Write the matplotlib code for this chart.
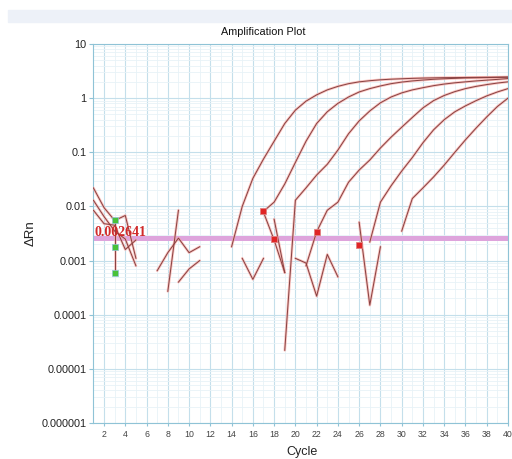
import matplotlib
matplotlib.use("Agg")
import matplotlib.pyplot as plt
from matplotlib.patches import Rectangle
from matplotlib.ticker import FixedLocator, MultipleLocator, LogLocator, NullFormatter
import numpy as np

# amplification curves (cycle, delta Rn)
cyc_a = list(range(14, 41))
rn_a = [0.0018, 0.010, 0.033, 0.075, 0.16, 0.34, 0.6, 0.88, 1.15, 1.42, 1.65, 1.85, 2.0, 2.1,
        2.18, 2.24, 2.28, 2.32, 2.35, 2.37, 2.39, 2.4, 2.41, 2.42, 2.43, 2.44, 2.45]
cyc_b = list(range(17, 41))
rn_b = [0.0081, 0.012, 0.026, 0.065, 0.16, 0.34, 0.56, 0.8, 1.05, 1.3, 1.5, 1.68, 1.85, 1.98,
        2.08, 2.16, 2.23, 2.28, 2.32, 2.36, 2.38, 2.4, 2.42, 2.44]
cyc_c = list(range(19, 41))
rn_c = [2.2e-5, 0.013, 0.022, 0.038, 0.06, 0.11, 0.22, 0.38, 0.58, 0.82, 1.05, 1.25, 1.42, 1.56,
        1.7, 1.82, 1.92, 2.0, 2.08, 2.15, 2.22, 2.3]
cyc_d = list(range(21, 41))
rn_d = [0.0008, 0.0034, 0.0085, 0.012, 0.028, 0.047, 0.072, 0.12, 0.19, 0.29, 0.44, 0.66, 0.9,
        1.12, 1.32, 1.5, 1.65, 1.78, 1.9, 2.0]
cyc_e = list(range(27, 41))
rn_e = [0.0022, 0.012, 0.024, 0.045, 0.08, 0.15, 0.26, 0.4, 0.56, 0.72, 0.9, 1.1, 1.3, 1.5]
cyc_f = list(range(30, 41))
rn_f = [0.0035, 0.014, 0.022, 0.035, 0.058, 0.1, 0.17, 0.28, 0.45, 0.7, 1.0]

# noisy baseline pieces
noise = [
    ([1, 2, 3, 4, 5], [0.022, 0.0095, 0.0055, 0.0068, 0.0011]),
    ([1, 2, 3, 4, 5], [0.013, 0.0065, 0.0035, 0.0025, 0.0008]),
    ([1, 2, 3, 4, 5], [0.0085, 0.0048, 0.0045, 0.0016, 0.0024]),
    ([3, 3, 3], [0.0055, 0.0018, 0.0006]),
    ([7, 8, 9, 10, 11], [0.00065, 0.0014, 0.0026, 0.0014, 0.0018]),
    ([8, 9], [0.00027, 0.0085]),
    ([9, 10, 11], [0.0004, 0.0007, 0.001]),
    ([15, 16, 17], [0.0011, 0.00045, 0.0011]),
    ([17, 18, 19], [0.0078, 0.0024, 0.0006]),
    ([18, 19], [0.0058, 0.0006]),
    ([20, 21, 22, 23, 24], [0.0011, 0.0009, 0.00022, 0.0013, 0.0005]),
    ([26, 27, 28], [0.0051, 0.00015, 0.0018]),
]

red_x = [17, 22, 26, 18]
red_y = [0.0081, 0.0034, 0.0019, 0.0025]
green_x = [3, 3, 3]
green_y = [0.0055, 0.0018, 0.0006]

threshold = 0.002641

yticks = [1e-6, 1e-5, 1e-4, 1e-3, 1e-2, 1e-1, 1, 10]
ylabels = ["0.000001", "0.00001", "0.0001", "0.001", "0.01", "0.1", "1", "10"]
xticks = list(range(2, 41, 2))

fig = plt.figure(figsize=(5.12, 4.59), dpi=100)
fig.patches.append(Rectangle((8 / 512, 1 - 22 / 459), 1, 12 / 459, transform=fig.transFigure,
                             color="#edf1f8", zorder=0))
ax = fig.add_axes([93.4 / 512, 1 - 423 / 459, 414.6 / 512, 379 / 459])
ax.set_yscale("log")
ax.set_xlim(1, 40)
ax.set_ylim(1e-6, 10)

ax.yaxis.set_major_locator(FixedLocator(yticks))
ax.set_yticklabels(ylabels)
ax.yaxis.set_minor_locator(LogLocator(base=10, subs=np.arange(2, 10)))
ax.yaxis.set_minor_formatter(NullFormatter())
ax.set_xticks(xticks)
ax.xaxis.set_minor_locator(MultipleLocator(1))

ax.grid(True, which="major", color="#c4dfeb", lw=0.8)
ax.grid(True, which="minor", color="#e8f2f7", lw=0.6)
ax.set_axisbelow(True)
for s in ax.spines.values():
    s.set_color("#8fc3d6")
ax.tick_params(axis="y", which="major", length=3, color="#8fc3d6", labelsize=7.8,
               labelcolor="#222222", pad=2)
ax.tick_params(axis="x", which="major", length=2, color="#8fc3d6", labelsize=6.3,
               labelcolor="#444444", pad=3)
ax.tick_params(which="minor", length=0)
for lab in ax.get_yticklabels() + ax.get_xticklabels():
    lab.set_family("Liberation Sans")

ax.axhline(threshold, color="#dea4dc", lw=3.6, zorder=2)


def draw(x, y):
    ax.plot(x, y, color="#f7aaa5", lw=1.9, alpha=0.7, zorder=3, solid_capstyle="round")
    ax.plot(x, y, color="#874040", lw=0.7, zorder=4)


for x, y in noise:
    draw(x, y)
for x, y in [(cyc_a, rn_a), (cyc_b, rn_b), (cyc_c, rn_c), (cyc_d, rn_d), (cyc_e, rn_e), (cyc_f, rn_f)]:
    draw(x, y)

ax.plot(red_x, red_y, ls="none", marker="s", ms=5, mfc="#e02525", mec="#e08080", mew=0.6, zorder=6)
ax.plot(green_x, green_y, ls="none", marker="s", ms=5, mfc="#49c23a", mec="#8fc3d6", mew=0.5, zorder=6)

ax.text(1.15, threshold * 1.25, "0.002641", color="#d02a2a", fontsize=10, fontweight="bold",
        family="Liberation Serif", va="center", ha="left", zorder=7)

fig.text(263 / 512, 1 - 32 / 459, "Amplification Plot", ha="center", va="center",
         fontsize=7.8, family="Liberation Sans", color="#111111")
fig.text(302 / 512, 1 - 452 / 459, "Cycle", ha="center", va="center",
         fontsize=9, family="Liberation Sans", color="#222222")
fig.text(31 / 512, 1 - 233 / 459, "ΔRn", ha="center", va="center", rotation=90,
         fontsize=9.5, family="Liberation Sans", color="#222222")

fig.savefig("out.png", dpi=100)
